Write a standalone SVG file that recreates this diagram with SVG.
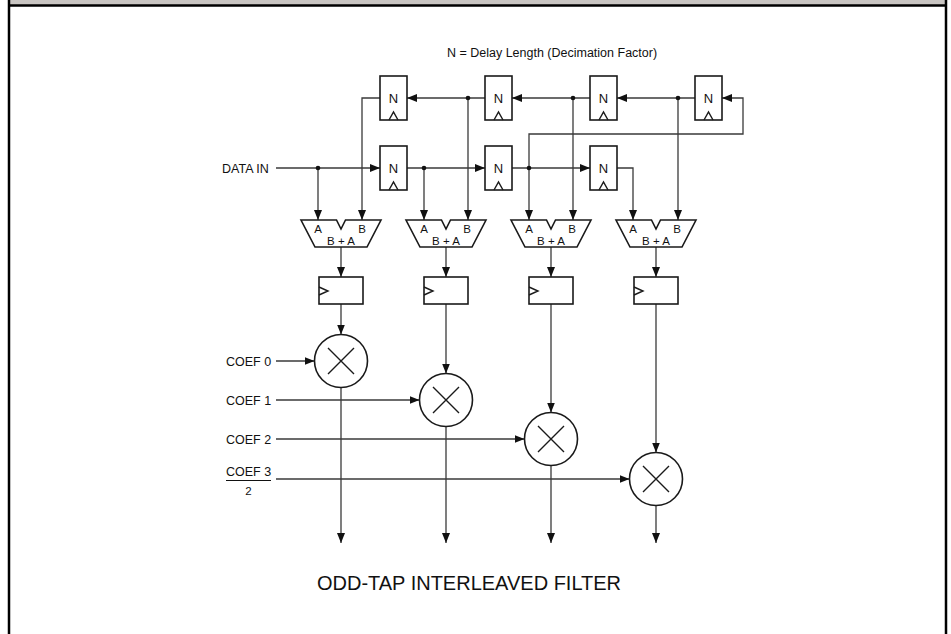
<svg xmlns="http://www.w3.org/2000/svg" width="951" height="634" viewBox="0 0 951 634">
<style>
.frame{fill:none;stroke:#000;stroke-width:2.5}
.box{fill:#fff;stroke:#1a1a1a;stroke-width:1.6}
.ln{fill:none;stroke:#3a3a3a;stroke-width:1.3}
.ck{fill:none;stroke:#1a1a1a;stroke-width:1.4}
.t{font-family:"Liberation Sans",Arial,sans-serif;fill:#111}
.s11{font-size:11.5px}
.s12{font-size:12.5px}
.s13{font-size:13px}
.mid{text-anchor:middle}
.dot{fill:#111}
</style>
<defs>
<marker id="ah" markerUnits="userSpaceOnUse" markerWidth="10" markerHeight="8" refX="10" refY="4" orient="auto" viewBox="0 0 10 8">
<path d="M0,0 L10,4 L0,8 z" fill="#111"/>
</marker>
</defs>
<rect x="0" y="0" width="951" height="634" fill="#fff"/>
<rect x="10" y="0" width="936" height="5" fill="#c9c5c2"/>
<line x1="9" y1="0" x2="9" y2="634" class="frame"/>
<line x1="946" y1="0" x2="946" y2="634" class="frame"/>
<line x1="8" y1="5.5" x2="947" y2="5.5" class="frame"/>

<text class="t s12 mid" x="552" y="57">N = Delay Length (Decimation Factor)</text>

<g id="connectors">
<path class="ln" d="M695,98 H617" marker-end="url(#ah)"/>
<path class="ln" d="M590,98 H512" marker-end="url(#ah)"/>
<path class="ln" d="M485,98 H407" marker-end="url(#ah)"/>
<path class="ln" d="M380,98 H362 V220" marker-end="url(#ah)"/>
<path class="ln" d="M678,98 V220" marker-end="url(#ah)"/>
<path class="ln" d="M573,98 V220" marker-end="url(#ah)"/>
<path class="ln" d="M468,98 V220" marker-end="url(#ah)"/>
<path class="ln" d="M529,168 V134 H743 V98 H722" marker-end="url(#ah)"/>
<path class="ln" d="M276,168 H380" marker-end="url(#ah)"/>
<path class="ln" d="M318,168 V220" marker-end="url(#ah)"/>
<path class="ln" d="M407,168 H485" marker-end="url(#ah)"/>
<path class="ln" d="M424,168 V220" marker-end="url(#ah)"/>
<path class="ln" d="M512,168 H590" marker-end="url(#ah)"/>
<path class="ln" d="M529,168 V220" marker-end="url(#ah)"/>
<path class="ln" d="M617,168 H633 V220" marker-end="url(#ah)"/>
<path class="ln" d="M341,247 V277" marker-end="url(#ah)"/>
<path class="ln" d="M446,247 V277" marker-end="url(#ah)"/>
<path class="ln" d="M551,247 V277" marker-end="url(#ah)"/>
<path class="ln" d="M656,247 V277" marker-end="url(#ah)"/>
<path class="ln" d="M341,304 V334.5" marker-end="url(#ah)"/>
<path class="ln" d="M446,304 V373.5" marker-end="url(#ah)"/>
<path class="ln" d="M551,304 V412.5" marker-end="url(#ah)"/>
<path class="ln" d="M656,304 V452.5" marker-end="url(#ah)"/>
<path class="ln" d="M276,361 H314.5" marker-end="url(#ah)"/>
<path class="ln" d="M276,400 H419.5" marker-end="url(#ah)"/>
<path class="ln" d="M276,439 H524.5" marker-end="url(#ah)"/>
<path class="ln" d="M276,479 H629.5" marker-end="url(#ah)"/>
<path class="ln" d="M341,387.5 V543" marker-end="url(#ah)"/>
<path class="ln" d="M446,426.5 V543" marker-end="url(#ah)"/>
<path class="ln" d="M551,465.5 V543" marker-end="url(#ah)"/>
<path class="ln" d="M656,505.5 V543" marker-end="url(#ah)"/>
<circle class="dot" cx="678" cy="98" r="2.3"/>
<circle class="dot" cx="573" cy="98" r="2.3"/>
<circle class="dot" cx="468" cy="98" r="2.3"/>
<circle class="dot" cx="318" cy="168" r="2.3"/>
<circle class="dot" cx="424" cy="168" r="2.3"/>
<circle class="dot" cx="529" cy="168" r="2.3"/>
</g>

<g id="delay-top-1"><rect class="box" x="380" y="76" width="27" height="44"/><text class="t s13 mid" x="393.5" y="103">N</text><polyline class="ck" points="389,120 393.5,112 398,120"/></g>
<g id="delay-top-2"><rect class="box" x="485" y="76" width="27" height="44"/><text class="t s13 mid" x="498.5" y="103">N</text><polyline class="ck" points="494,120 498.5,112 503,120"/></g>
<g id="delay-top-3"><rect class="box" x="590" y="76" width="27" height="44"/><text class="t s13 mid" x="603.5" y="103">N</text><polyline class="ck" points="599,120 603.5,112 608,120"/></g>
<g id="delay-top-4"><rect class="box" x="695" y="76" width="27" height="44"/><text class="t s13 mid" x="708.5" y="103">N</text><polyline class="ck" points="704,120 708.5,112 713,120"/></g>

<g id="delay-bot-1"><rect class="box" x="380" y="146" width="27" height="44"/><text class="t s13 mid" x="393.5" y="173">N</text><polyline class="ck" points="389,190 393.5,182 398,190"/></g>
<g id="delay-bot-2"><rect class="box" x="485" y="146" width="27" height="44"/><text class="t s13 mid" x="498.5" y="173">N</text><polyline class="ck" points="494,190 498.5,182 503,190"/></g>
<g id="delay-bot-3"><rect class="box" x="590" y="146" width="27" height="44"/><text class="t s13 mid" x="603.5" y="173">N</text><polyline class="ck" points="599,190 603.5,182 608,190"/></g>

<text class="t s12" x="222" y="172.5">DATA IN</text>

<g id="adder-1"><path class="box" d="M301,220 H336.5 L341,229 L345.5,220 H381 L367,247 H315 Z"/><text class="t s11 mid" x="318" y="233">A</text><text class="t s11 mid" x="362" y="233">B</text><text class="t s11 mid" x="341" y="245">B + A</text></g>
<g id="adder-2"><path class="box" d="M406,220 H441.5 L446,229 L450.5,220 H486 L472,247 H420 Z"/><text class="t s11 mid" x="424" y="233">A</text><text class="t s11 mid" x="467" y="233">B</text><text class="t s11 mid" x="446" y="245">B + A</text></g>
<g id="adder-3"><path class="box" d="M511,220 H546.5 L551,229 L555.5,220 H591 L577,247 H525 Z"/><text class="t s11 mid" x="529" y="233">A</text><text class="t s11 mid" x="572" y="233">B</text><text class="t s11 mid" x="551" y="245">B + A</text></g>
<g id="adder-4"><path class="box" d="M616,220 H651.5 L656,229 L660.5,220 H696 L682,247 H630 Z"/><text class="t s11 mid" x="633" y="233">A</text><text class="t s11 mid" x="677" y="233">B</text><text class="t s11 mid" x="656" y="245">B + A</text></g>

<g id="reg-1"><rect class="box" x="319" y="277" width="44" height="27"/><polyline class="ck" points="319,287 328,291 319,295"/></g>
<g id="reg-2"><rect class="box" x="424" y="277" width="44" height="27"/><polyline class="ck" points="424,287 433,291 424,295"/></g>
<g id="reg-3"><rect class="box" x="529" y="277" width="44" height="27"/><polyline class="ck" points="529,287 538,291 529,295"/></g>
<g id="reg-4"><rect class="box" x="634" y="277" width="44" height="27"/><polyline class="ck" points="634,287 643,291 634,295"/></g>

<g id="mult-1"><circle class="box" cx="341" cy="361" r="26.5"/><path class="ck" d="M328,348 L354,374 M354,348 L328,374"/></g>
<g id="mult-2"><circle class="box" cx="446" cy="400" r="26.5"/><path class="ck" d="M433,387 L459,413 M459,387 L433,413"/></g>
<g id="mult-3"><circle class="box" cx="551" cy="439" r="26.5"/><path class="ck" d="M538,426 L564,452 M564,426 L538,452"/></g>
<g id="mult-4"><circle class="box" cx="656" cy="479" r="26.5"/><path class="ck" d="M643,466 L669,492 M669,466 L643,492"/></g>

<text class="t s12" x="226" y="365.5">COEF 0</text>
<text class="t s12" x="226" y="404.5">COEF 1</text>
<text class="t s12" x="226" y="443.5">COEF 2</text>
<text class="t s12" x="226" y="476">COEF 3</text>
<line x1="226" y1="480.5" x2="271" y2="480.5" stroke="#111" stroke-width="1"/>
<text class="t s11 mid" x="248.5" y="495">2</text>

<text class="t mid" x="469" y="590" style="font-size:20px">ODD-TAP INTERLEAVED FILTER</text>
</svg>
